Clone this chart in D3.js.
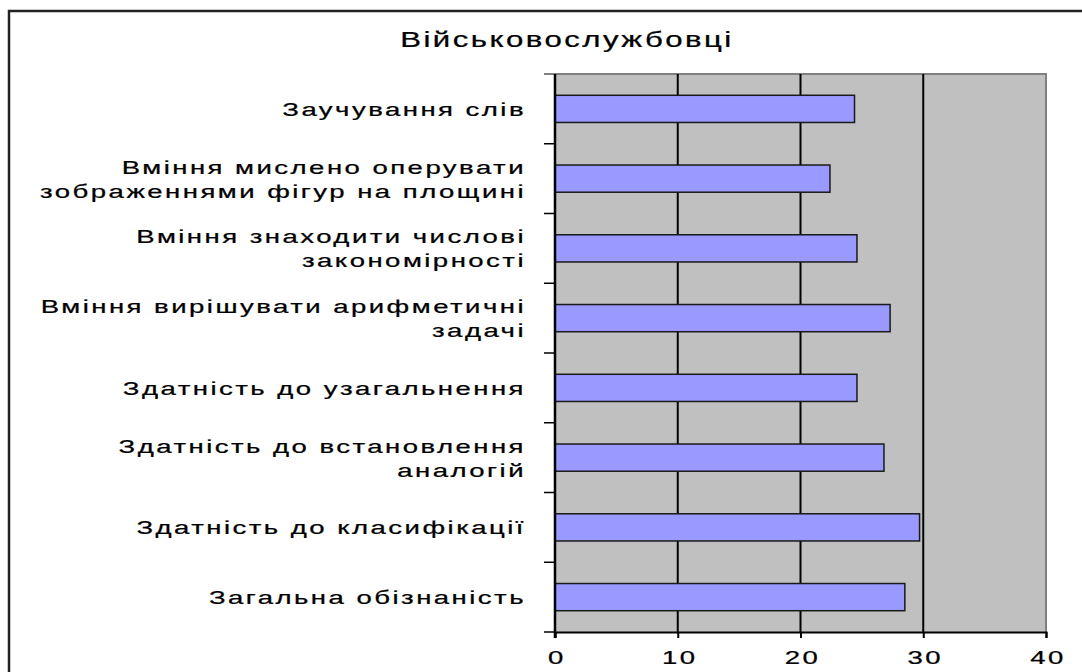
<!DOCTYPE html>
<html>
<head>
<meta charset="utf-8">
<script src="https://cdn.jsdelivr.net/npm/d3@7"></script>
<style>
  html, body { margin: 0; padding: 0; background: #ffffff; }
  svg { display: block; }
  text { font-family: "Liberation Sans", Arial, sans-serif; fill: #000; }
</style>
</head>
<body>
<svg id="chart" width="1082" height="672"></svg>
<script>
const title = "Військовослужбовці";
const categories = [
  ["Заучування слів"],
  ["Вміння мислено оперувати", "зображеннями фігур на площині"],
  ["Вміння знаходити числові", "закономірності"],
  ["Вміння вирішувати арифметичні", "задачі"],
  ["Здатність до узагальнення"],
  ["Здатність до встановлення", "аналогій"],
  ["Здатність до класифікації"],
  ["Загальна обізнаність"]
];
const values = [24.4, 22.4, 24.6, 27.3, 24.6, 26.8, 29.7, 28.5];
const xTicks = [0, 10, 20, 30, 40];

const svg = d3.select("#chart");
const plot = { left: 555, right: 1046, top: 74, bottom: 632 };
const FS = 19, SX = 1.45, LS = 1.7;

// outer frame
svg.append("rect").attr("x", 9).attr("y", 11).attr("width", 1110).attr("height", 700)
  .attr("fill", "#fff").attr("stroke", "#222").attr("stroke-width", 2.5);

const x = d3.scaleLinear().domain([0, 40]).range([plot.left, plot.right]);
const y = d3.scaleBand().domain(d3.range(categories.length)).range([plot.top, plot.bottom]).padding(0);

// plot background
svg.append("rect").attr("x", plot.left).attr("y", plot.top)
  .attr("width", plot.right - plot.left).attr("height", plot.bottom - plot.top)
  .attr("fill", "#c0c0c0");
// top and right border
svg.append("path")
  .attr("d", `M${plot.left - 11},${plot.top}H${plot.right}V${plot.bottom}`)
  .attr("fill", "none").attr("stroke", "#808080").attr("stroke-width", 2);

// gridlines
svg.append("g").selectAll("line").data(xTicks.filter(d => d > 0 && d < 40)).join("line")
  .attr("x1", d => x(d)).attr("x2", d => x(d))
  .attr("y1", plot.top).attr("y2", plot.bottom)
  .attr("stroke", "#000").attr("stroke-width", 2);

// bars
const bh = y.bandwidth() * 0.39;
svg.append("g").selectAll("rect").data(values).join("rect")
  .attr("x", x(0)).attr("y", (d, i) => y(i) + (y.bandwidth() - bh) / 2)
  .attr("width", d => x(d) - x(0)).attr("height", bh)
  .attr("fill", "#9999ff").attr("stroke", "#1a1a1a").attr("stroke-width", 1.5);

// x axis
const xAxis = d3.axisBottom(x).tickValues(xTicks).tickSize(6).tickFormat("");
const gx = svg.append("g").attr("transform", `translate(0,${plot.bottom})`).call(xAxis);
gx.select(".domain").attr("stroke", "#000").attr("stroke-width", 2);
gx.selectAll(".tick line").attr("stroke", "#000").attr("stroke-width", 2);

// y axis line and ticks at band boundaries
const bounds = d3.range(categories.length + 1).map(i => i < categories.length ? y(i) : plot.bottom);
svg.append("line").attr("x1", plot.left).attr("x2", plot.left)
  .attr("y1", plot.top).attr("y2", plot.bottom + 6).attr("stroke", "#000").attr("stroke-width", 2.5);
svg.append("g").selectAll("line").data(bounds.slice(1)).join("line")
  .attr("x1", plot.left - 11).attr("x2", plot.left)
  .attr("y1", d => d).attr("y2", d => d).attr("stroke", "#000").attr("stroke-width", 1.5);

function wideText(g, str, tx, ty, anchor, fs) {
  return g.append("text")
    .attr("transform", `translate(${tx},${ty}) scale(${SX},1)`)
    .attr("text-anchor", anchor)
    .attr("font-size", fs || FS)
    .attr("letter-spacing", LS)
    .attr("stroke", "#000").attr("stroke-width", 0.25)
    .text(str);
}

// category labels
const lg = svg.append("g");
categories.forEach((lines, i) => {
  const cy = y(i) + y.bandwidth() / 2;
  const n = lines.length;
  lines.forEach((ln, j) => {
    const ly = cy + (j - (n - 1) / 2) * 24 + 7;
    wideText(lg, ln, 526, ly, "end");
  });
});

// x tick labels
const tg = svg.append("g");
xTicks.forEach(t => wideText(tg, String(t), x(t) + 2, 664, "middle"));

// title
wideText(svg, title, 567, 47, "middle", 21.5);
</script>
</body>
</html>
